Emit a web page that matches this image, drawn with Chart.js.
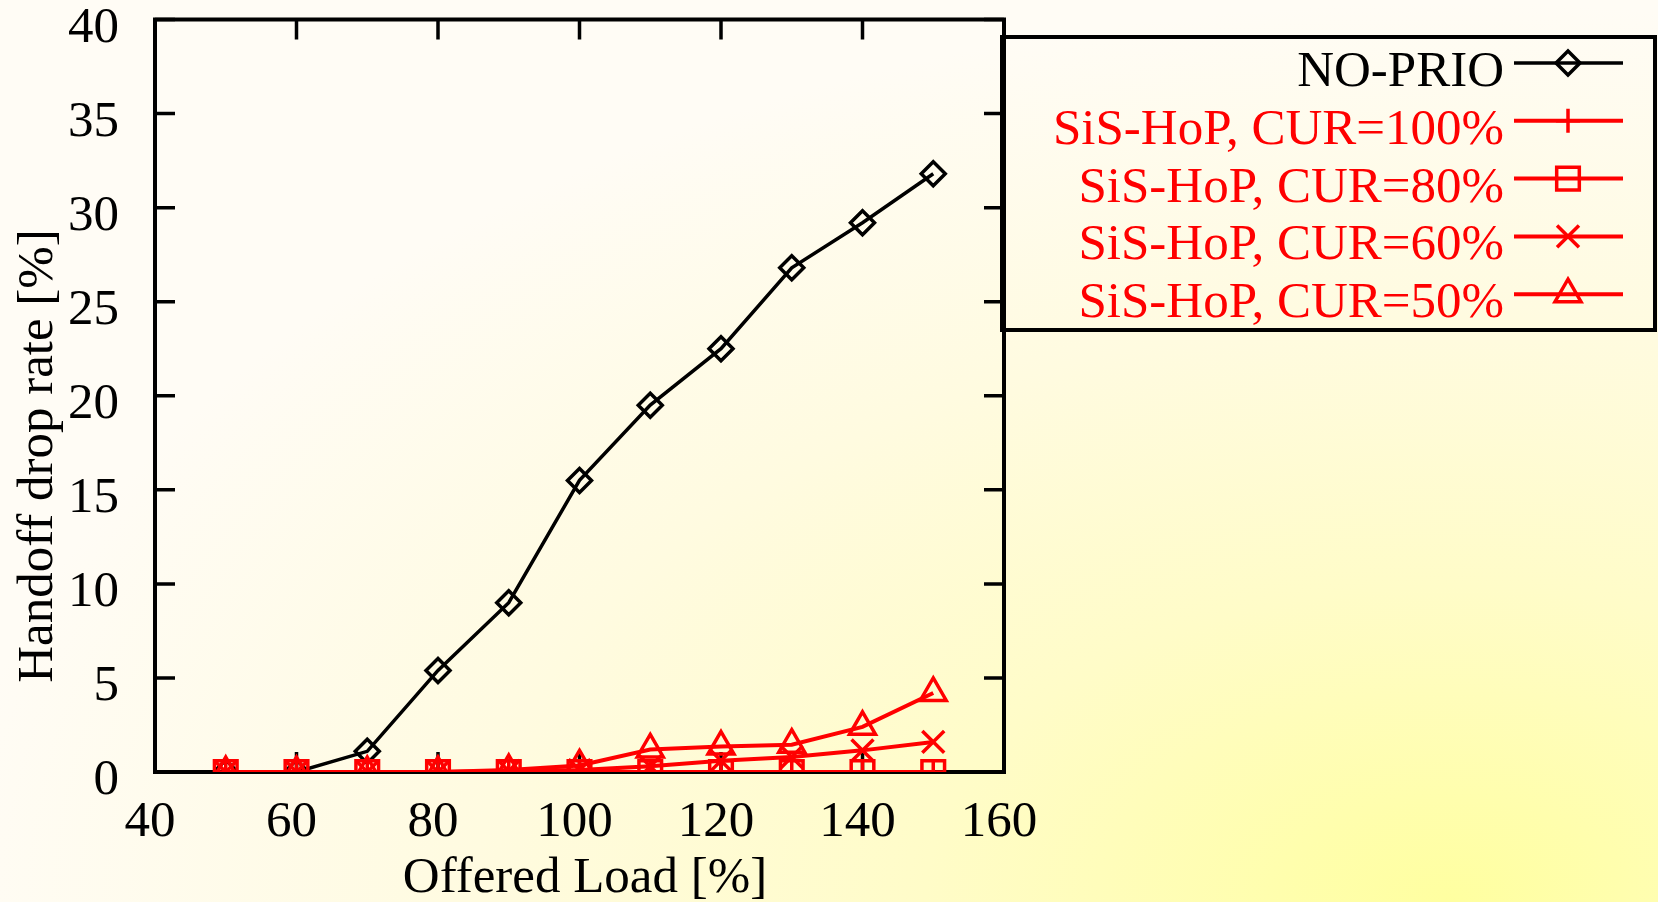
<!DOCTYPE html>
<html>
<head>
<meta charset="utf-8">
<script src="https://cdn.jsdelivr.net/npm/chart.js@4"></script>
<style>
  html, body { margin: 0; padding: 0; }
  body {
    width: 1658px; height: 902px; overflow: hidden;
    background: radial-gradient(ellipse 1500px 900px at 1450px 902px, #ffffa0 0%, #fffcc8 35%, #fffbe0 65%, #fffcf5 100%);
  }
  canvas { display: block; }
</style>
</head>
<body>
<canvas id="chart" width="1658" height="902"></canvas>
<script>
// offered load [%] on the x axis
const loads = [50, 60, 70, 80, 90, 100, 110, 120, 130, 140, 150];
// handoff drop rate [%] per scheme
const noPrio = [0, 0, 1.1, 5.4, 9.0, 15.5, 19.5, 22.5, 26.8, 29.2, 31.8];
const cur100 = [0, 0, 0, 0, 0, 0, 0, 0, 0, 0, 0];
const cur80  = [0, 0, 0, 0, 0, 0, 0, 0, 0, 0, 0];
const cur60  = [0, 0, 0, 0, 0.05, 0.1, 0.3, 0.6, 0.8, 1.15, 1.6];
const cur50  = [0, 0, 0, 0, 0.1, 0.35, 1.2, 1.35, 1.45, 2.4, 4.2];
const seriesNames = ['NO-PRIO', 'SiS-HoP, CUR=100%', 'SiS-HoP, CUR=80%', 'SiS-HoP, CUR=60%', 'SiS-HoP, CUR=50%'];
const xTicks = [40, 60, 80, 100, 120, 140, 160];
const yTicks = [0, 5, 10, 15, 20, 25, 30, 35, 40];

const FONT = '"Liberation Serif", "DejaVu Serif", serif';
const FSIZE = 51;
const RED = '#ff0000';

function pts(ys) {
    return loads.map((x, i) => ({ x: x, y: ys[i] }));
}

function makeSet(label, ys, color, style, radius, width, order) {
    return {
        label: label,
        data: pts(ys),
        borderColor: color,
        backgroundColor: 'rgba(0,0,0,0)',
        borderWidth: width,
        pointStyle: style,
        pointRadius: radius,
        pointHoverRadius: radius,
        pointBorderColor: color,
        pointBackgroundColor: 'rgba(0,0,0,0)',
        pointBorderWidth: 3.5,
        tension: 0,
        order: order
    };
}

// frame + inward tick marks (gnuplot style), drawn under the data
const framePlugin = {
    id: 'frame',
    beforeDatasetsDraw(chart) {
        const { ctx, chartArea: a, scales } = chart;
        ctx.save();
        ctx.strokeStyle = '#000';
        ctx.lineWidth = 3.5;
        const len = 20;
        ctx.beginPath();
        xTicks.forEach(v => {
            const px = scales.x.getPixelForValue(v);
            ctx.moveTo(px, a.bottom); ctx.lineTo(px, a.bottom - len);
            ctx.moveTo(px, a.top); ctx.lineTo(px, a.top + len);
        });
        yTicks.forEach(v => {
            const py = scales.y.getPixelForValue(v);
            ctx.moveTo(a.left, py); ctx.lineTo(a.left + len, py);
            ctx.moveTo(a.right, py); ctx.lineTo(a.right - len, py);
        });
        ctx.stroke();
        ctx.lineWidth = 4;
        ctx.strokeRect(a.left, a.top, a.right - a.left, a.bottom - a.top);
        ctx.restore();
    },
    afterDraw(chart) {
        const { ctx } = chart;
        ctx.save();
        ctx.fillStyle = '#000';
        ctx.font = FSIZE + 'px ' + FONT;
        // x axis title
        ctx.textAlign = 'center';
        ctx.textBaseline = 'alphabetic';
        ctx.fillText('Offered Load [%]', 585, 892);
        // y axis title
        ctx.translate(52, 456);
        ctx.rotate(-Math.PI / 2);
        ctx.fillText('Handoff drop rate [%]', 0, 0);
        ctx.restore();

        // legend box
        ctx.save();
        ctx.strokeStyle = '#000';
        ctx.lineWidth = 4;
        ctx.strokeRect(1002, 37, 653, 293);
        ctx.font = FSIZE + 'px ' + FONT;
        ctx.textAlign = 'right';
        ctx.textBaseline = 'alphabetic';
        chart.data.datasets.forEach((ds, i) => {
            const ly = 63 + i * 57.8;
            ctx.fillStyle = ds.borderColor;
            ctx.fillText(ds.label, 1504, ly + 23);
            ctx.strokeStyle = ds.borderColor;
            ctx.lineWidth = ds.borderWidth;
            ctx.beginPath();
            ctx.moveTo(1514, ly); ctx.lineTo(1623, ly);
            ctx.stroke();
            ctx.lineWidth = 3.5;
            ctx.fillStyle = 'rgba(0,0,0,0)';
            Chart.helpers.drawPoint(ctx, {
                pointStyle: ds.pointStyle, radius: ds.pointRadius,
                borderWidth: 3.5, rotation: 0
            }, 1568, ly);
        });
        ctx.restore();
    }
};

const ctx = document.getElementById('chart').getContext('2d');
new Chart(ctx, {
    type: 'line',
    data: {
        datasets: [
            makeSet(seriesNames[0], noPrio, '#000000', 'rectRot', 12, 3.5, 5),
            makeSet(seriesNames[1], cur100, RED, 'cross', 12, 4, 4),
            makeSet(seriesNames[2], cur80, RED, 'rect', 16, 4, 3),
            makeSet(seriesNames[3], cur60, RED, 'crossRot', 15.5, 4, 2),
            makeSet(seriesNames[4], cur50, RED, 'triangle', 15, 4, 1)
        ]
    },
    options: {
        responsive: false,
        animation: false,
        devicePixelRatio: 1,
        layout: { padding: { left: 0, top: 15, right: 654, bottom: 0 } },
        plugins: {
            legend: { display: false },
            tooltip: { enabled: false }
        },
        scales: {
            x: {
                type: 'linear',
                min: 40, max: 160,
                afterBuildTicks: s => { s.ticks = xTicks.map(v => ({ value: v })); },
                afterFit: s => { s.height = 130; s.paddingLeft = 0; s.paddingRight = 0; },
                grid: { display: false },
                border: { display: false },
                ticks: {
                    padding: 12,
                    labelOffset: -5,
                    maxRotation: 0,
                    color: '#000',
                    font: { family: FONT, size: FSIZE }
                }
            },
            y: {
                min: 0, max: 40,
                afterBuildTicks: s => { s.ticks = yTicks.map(v => ({ value: v })); },
                afterFit: s => { s.width = 155; s.paddingTop = 0; s.paddingBottom = 0; },
                grid: { display: false },
                border: { display: false },
                ticks: {
                    padding: 28,
                    labelOffset: 9,
                    color: '#000',
                    font: { family: FONT, size: FSIZE }
                }
            }
        }
    },
    plugins: [framePlugin]
});
</script>
</body>
</html>
